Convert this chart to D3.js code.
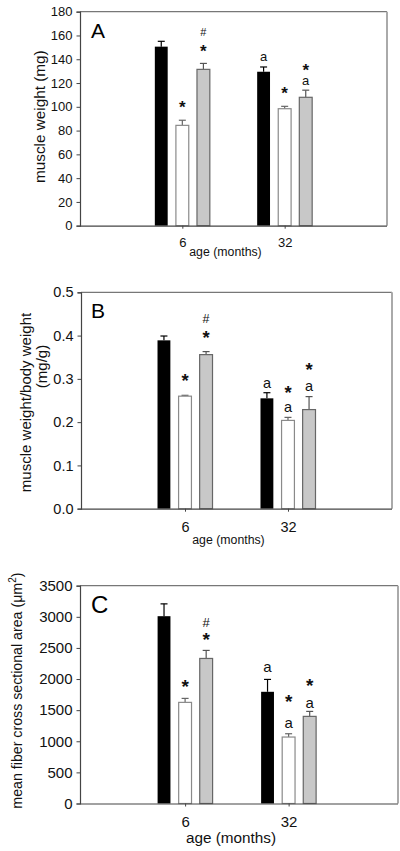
<!DOCTYPE html>
<html><head><meta charset="utf-8">
<script src="https://cdn.jsdelivr.net/npm/d3@7"></script>
<style>
html,body{margin:0;padding:0;background:#fff;}
svg{display:block;font-family:Arial,"Liberation Sans",sans-serif;}
</style></head>
<body><svg id="chart" width="400" height="851"></svg>
<script>
// ---------- DATA ----------
const categories = ["6", "32"];
const seriesKeys = ["black", "white", "gray"];

// Panel A: muscle weight (mg)
const weightMeanBlack = [150.6, 129.5];
const weightMeanWhite = [84.4, 98.4];
const weightMeanGray  = [131.5, 108.0];
const weightErrBlack  = [4.5, 4.0];
const weightErrWhite  = [4.3, 2.0];
const weightErrGray   = [5.0, 6.0];
const weightTicks = [0, 20, 40, 60, 80, 100, 120, 140, 160, 180];

// Panel B: muscle weight / body weight (mg/g)
const ratioMeanBlack = [0.389, 0.255];
const ratioMeanWhite = [0.260, 0.204];
const ratioMeanGray  = [0.356, 0.229];
const ratioErrBlack  = [0.010, 0.013];
const ratioErrWhite  = [0.002, 0.007];
const ratioErrGray   = [0.007, 0.030];
const ratioTicks = [0.0, 0.1, 0.2, 0.3, 0.4, 0.5];

// Panel C: mean fiber cross sectional area (um^2)
const csaMeanBlack = [3010, 1795];
const csaMeanWhite = [1625, 1068];
const csaMeanGray  = [2331, 1400];
const csaErrBlack  = [198, 199];
const csaErrWhite  = [64, 53];
const csaErrGray   = [129, 80];
const csaTicks = [0, 500, 1000, 1500, 2000, 2500, 3000, 3500];

// significance labels: [category, series, label, value (data units, label centre)]
const weightMarks = [["6","white","*",102.4],["6","gray","*",149.7],["6","gray","#",163.2],
  ["32","black","a",141.9],["32","white","*",114.1],["32","gray","a",121.1],["32","gray","*",133.7]];
const ratioMarks = [["6","white","*",0.3036],["6","gray","*",0.4043],["6","gray","#",0.440],
  ["32","black","a",0.288],["32","white","a",0.232],["32","white","*",0.2759],["32","gray","a",0.2819],["32","gray","*",0.329]];
const csaMarks = [["6","white","*",1941],["6","gray","*",2692],["6","gray","#",2912],
  ["32","black","a",2182],["32","white","a",1278],["32","white","*",1700],["32","gray","a",1599],["32","gray","*",1957]];

// ---------- DRAW ----------
const svg = d3.select("#chart");
const fills = {black:"#000", white:"#fff", gray:"#c8c8c8"};
const strokes = {black:"#000", white:"#8a8a8a", gray:"#666"};
const errColor = {black:"#000", white:"#666", gray:"#555"};

const panels = [
  {letter:"A", means:[weightMeanBlack,weightMeanWhite,weightMeanGray], errs:[weightErrBlack,weightErrWhite,weightErrGray],
   ticks:weightTicks, fmt:d3.format("d"), marks:weightMarks,
   left:80, right:387, top:11.7, bottom:225.7, fs:13, pad:1.0, align:0.5,
   ytitle:["muscle weight (mg)"]},
  {letter:"B", means:[ratioMeanBlack,ratioMeanWhite,ratioMeanGray], errs:[ratioErrBlack,ratioErrWhite,ratioErrGray],
   ticks:ratioTicks, fmt:d3.format(".1f"), marks:ratioMarks,
   left:81, right:392, top:292.3, bottom:508.7, fs:14.5, pad:1.01, align:0.5,
   ytitle:["muscle weight/body weight","(mg/g)"]},
  {letter:"C", means:[csaMeanBlack,csaMeanWhite,csaMeanGray], errs:[csaErrBlack,csaErrWhite,csaErrGray],
   ticks:csaTicks, fmt:d3.format("d"), marks:csaMarks,
   left:80, right:398, top:585.7, bottom:803.5, fs:15, pad:1.036, align:0.49,
   ytitle:["csa"]}
];

panels.forEach((p, pi) => {
  const g = svg.append("g");
  const y = d3.scaleLinear().domain([p.ticks[0], p.ticks[p.ticks.length-1]]).range([p.bottom, p.top]);
  const x = d3.scalePoint().domain(categories).range([p.left, p.right]).padding(p.pad).align(p.align);
  const sub = d3.scaleBand().domain(seriesKeys).range([-27.5, 27.5]).paddingInner(0.39).paddingOuter(0);

  // frame: top and right borders
  g.append("line").attr("x1", p.left).attr("x2", p.right).attr("y1", p.top).attr("y2", p.top)
    .attr("stroke", "#777").attr("stroke-width", 1.2);
  g.append("line").attr("x1", p.right).attr("x2", p.right).attr("y1", p.top).attr("y2", p.bottom)
    .attr("stroke", "#aaa").attr("stroke-width", 2);

  // bars
  seriesKeys.forEach((s, si) => {
    categories.forEach((c, ci) => {
      const v = p.means[si][ci], e = p.errs[si][ci];
      const cx = x(c) + sub(s) + sub.bandwidth()/2;
      // error bar (upward)
      g.append("line").attr("x1", cx).attr("x2", cx).attr("y1", y(v)).attr("y2", y(v+e))
        .attr("stroke", errColor[s]).attr("stroke-width", 1.2);
      g.append("line").attr("x1", cx-3.5).attr("x2", cx+3.5).attr("y1", y(v+e)).attr("y2", y(v+e))
        .attr("stroke", errColor[s]).attr("stroke-width", 1.2);
      g.append("rect").attr("x", x(c) + sub(s)).attr("y", y(v))
        .attr("width", sub.bandwidth()).attr("height", y(0) - y(v))
        .attr("fill", fills[s]).attr("stroke", strokes[s]).attr("stroke-width", s==="black"?0:1.2);
    });
  });

  // y axis
  const ya = g.append("g").attr("transform", `translate(${p.left},0)`)
    .call(d3.axisLeft(y).tickValues(p.ticks).tickFormat(p.fmt).tickSize(3.5).tickPadding(4));
  ya.select(".domain").attr("stroke", "#444").attr("stroke-width", 1.2);
  ya.selectAll(".tick line").attr("stroke", "#444");
  ya.selectAll("text").attr("font-size", p.fs).attr("fill", "#111").attr("font-family", "Arial, 'Liberation Sans', sans-serif");

  // x axis
  const xa = g.append("g").attr("transform", `translate(0,${p.bottom})`)
    .call(d3.axisBottom(x).tickSize(3).tickPadding(p.fs*0.45+3).tickSizeOuter(0));
  xa.select(".domain").attr("d", `M${p.left},0.5H${p.right}`).attr("stroke", "#444").attr("stroke-width", 1.2);
  xa.selectAll(".tick line").attr("stroke", "#444");
  xa.selectAll("text").attr("font-size", p.fs).attr("fill", "#111").attr("font-family", "Arial, 'Liberation Sans', sans-serif");

  // x title
  g.append("text").attr("x", (p.left + p.right)/2 - 8).attr("y", p.bottom + (pi===0?30:pi===1?35:39))
    .attr("text-anchor", "middle").attr("font-size", pi===2?15.3:12.3).attr("fill", "#111")
    .text("age (months)");

  // panel letter
  g.append("text").attr("x", 91).attr("y", p.top + (pi===2?27:26)).attr("font-size", pi===2?24:21)
    .attr("fill", "#000").text(p.letter);

  // significance marks
  p.marks.forEach(m => {
    const cx = x(m[0]) + sub(m[1]) + sub.bandwidth()/2;
    const t = g.append("text").attr("x", cx).attr("y", y(m[3])).attr("text-anchor", "middle").attr("fill", "#111").text(m[2]);
    if (m[2] === "*") t.attr("font-size", p.fs + 4).attr("font-weight", "bold").attr("dy", "0.55em");
    else if (m[2] === "#") t.attr("font-size", p.fs - 2).attr("dy", "0.36em");
    else t.attr("font-size", p.fs).attr("dy", "0.27em");
  });

  // y title
  const cy = (p.top + p.bottom)/2;
  if (pi === 0) {
    g.append("text").attr("transform", `translate(44.5,${cy - 2}) rotate(-90)`)
      .attr("text-anchor", "middle").attr("font-size", 15.3).attr("fill", "#111").text(p.ytitle[0]);
  } else if (pi === 1) {
    g.append("text").attr("transform", `translate(31,${cy + 2}) rotate(-90)`)
      .attr("text-anchor", "middle").attr("font-size", 15).attr("fill", "#111").text(p.ytitle[0]);
    g.append("text").attr("transform", `translate(46.5,${cy - 34}) rotate(-90)`)
      .attr("text-anchor", "middle").attr("font-size", 15).attr("fill", "#111").text(p.ytitle[1]);
  } else {
    const t = g.append("text").attr("transform", `translate(22,${cy - 4}) rotate(-90)`)
      .attr("text-anchor", "middle").attr("font-size", 14.2).attr("fill", "#111");
    t.append("tspan").text("mean fiber cross sectional area (μm");
    t.append("tspan").attr("font-size", 10).attr("dy", "-0.6em").text("2");
    t.append("tspan").attr("dy", "0.45em").text(")");
  }
});
</script>
</body></html>
